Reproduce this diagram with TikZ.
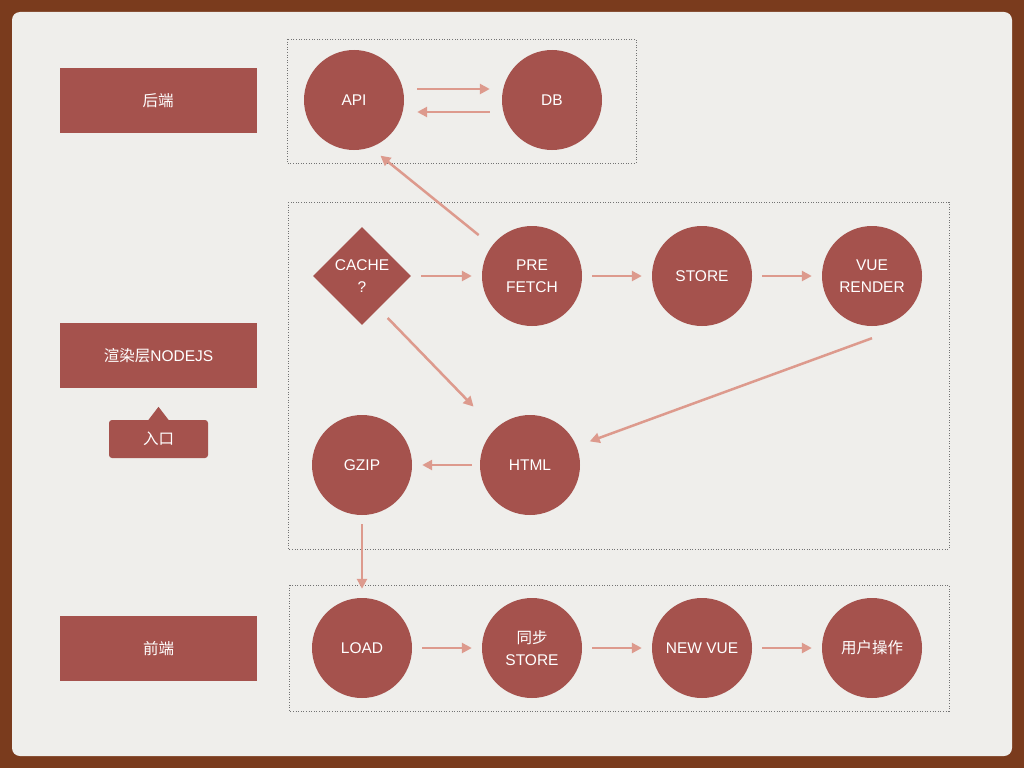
\documentclass[tikz,border=0pt]{standalone}
\usepackage{fontspec}
\setmainfont{Liberation Sans}
\newfontfamily\cjk{Noto Sans CJK SC}
\usetikzlibrary{arrows.meta,shapes.geometric}

\definecolor{frame}{HTML}{7A3B1D}
\definecolor{paper}{HTML}{EFEEEB}
\definecolor{nodered}{HTML}{A5524D}
\definecolor{linkred}{HTML}{DD9A8D}

\tikzset{
  stage/.style={circle, fill=nodered, text=white, minimum size=100pt, inner sep=0pt, align=center},
  decision/.style={diamond, fill=nodered, text=white, minimum size=98pt, inner sep=0pt, align=center},
  layer/.style={rectangle, fill=nodered, text=white, minimum width=197pt, minimum height=65pt, inner sep=0pt},
  link/.style={draw=linkred, line width=2.5pt, -{Triangle[length=10pt,width=10pt]}, shorten <=10pt, shorten >=10pt},
  dotbox/.style={draw=black!55, line width=0.8pt, dash pattern=on 1pt off 1.6pt},
}

\begin{document}
\begin{tikzpicture}[x=1pt, y=-1pt, font=\fontsize{15.5}{22}\selectfont]
\useasboundingbox (0,0) rectangle (1024,768);
\fill[frame] (0,0) rectangle (1024,768);
\fill[paper, rounded corners=8pt] (12,12) rectangle (1012,756);

% dotted groups
\draw[dotbox] (287,39) rectangle (636,163);
\draw[dotbox] (288,202) rectangle (949,549);
\draw[dotbox] (289,585) rectangle (949,711);

% layers on the left
\node[layer] (backend) at (158,100.5) {\cjk 后端};
\node[layer] (render) at (158.5,355.5) {{\cjk 渲染层}NODEJS};
\node[layer] (frontend) at (158.5,648.5) {\cjk 前端};
\node[rectangle, fill=nodered, text=white, rounded corners=3pt, minimum width=99pt, minimum height=38pt, inner sep=0pt] (entry) at (158.5,439) {\cjk 入口};
\fill[nodered] ([xshift=-10pt]entry.north) -- ++(10,-13) -- ([xshift=10pt]entry.north) -- cycle;

% backend
\node[stage] (api) at (354,100) {API};
\node[stage] (db) at (552,100) {DB};

% render layer
\node[decision] (cache) at (362,276) {CACHE\\?};
\node[stage] (prefetch) at (532,276) {PRE\\FETCH};
\node[stage] (store) at (702,276) {STORE};
\node[stage] (vue) at (872,276) {VUE\\RENDER};
\node[stage] (html) at (530,465) {HTML};
\node[stage] (gzip) at (362,465) {GZIP};

% frontend
\node[stage] (load) at (362,648) {LOAD};
\node[stage] (sync) at (532,648) {{\cjk 同步}\\STORE};
\node[stage] (newvue) at (702,648) {NEW VUE};
\node[stage] (action) at (872,648) {\cjk 用户操作};

\draw[link, shorten <=13pt, shorten >=12pt] ([yshift=11pt]api.east) -- ([yshift=11pt]db.west);
\draw[link, shorten <=12pt, shorten >=13pt] ([yshift=-12pt]db.west) -- ([yshift=-12pt]api.east);
\draw[link, shorten <=17pt, shorten >=13pt] (prefetch.143) -- (api.-71);
\draw[link] (cache) -- (prefetch);
\draw[link] (prefetch) -- (store);
\draw[link] (store) -- (vue);
\draw[link, shorten <=13pt, shorten >=31pt] (cache.-63) -- (html.134);
\draw[link, shorten <=0pt, shorten >=14pt] ([yshift=-12pt]vue.south) -- (html.22);
\draw[link, shorten <=8pt] (html) -- (gzip);
\draw[link, shorten <=9pt, shorten >=9pt] (gzip) -- (load);
\draw[link] (load) -- (sync);
\draw[link] (sync) -- (newvue);
\draw[link] (newvue) -- (action);
\end{tikzpicture}
\end{document}
